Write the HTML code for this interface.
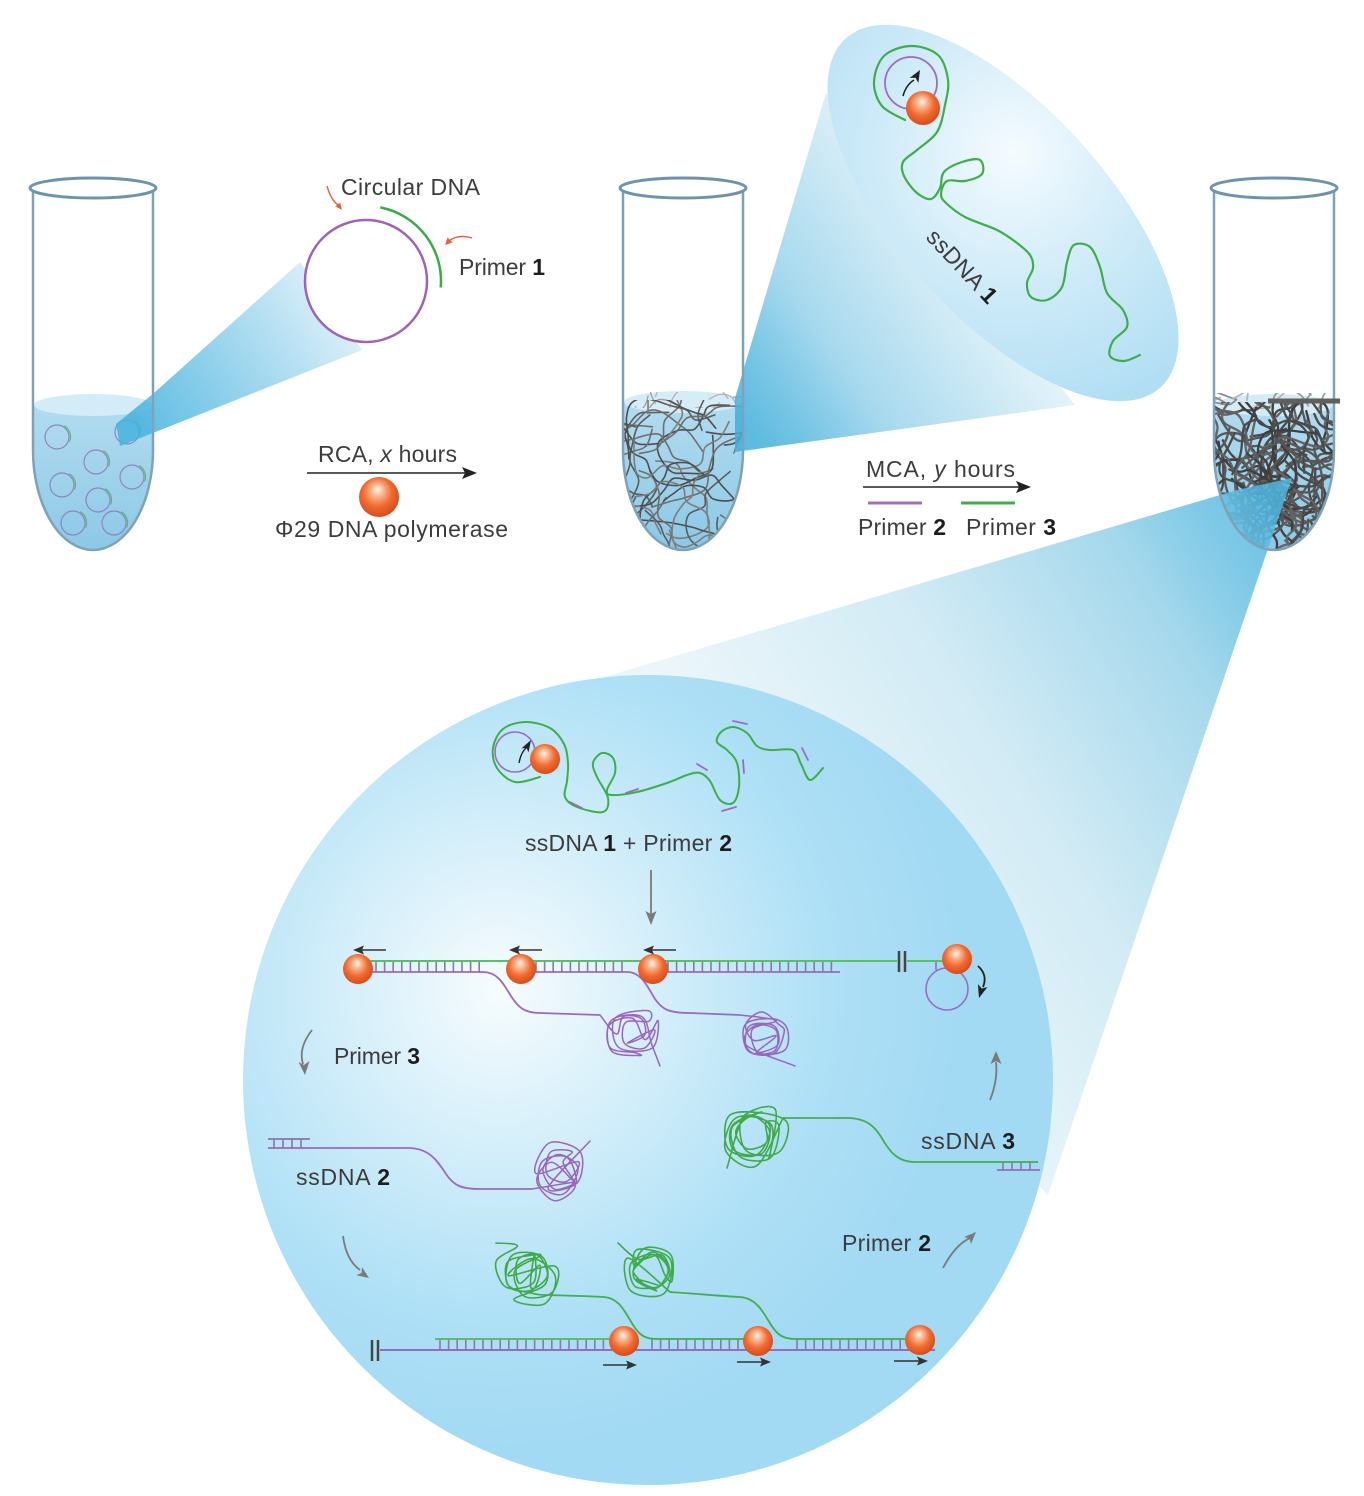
<!DOCTYPE html>
<html><head><meta charset="utf-8">
<style>
html,body{margin:0;padding:0;background:#fff;}
svg{display:block;}
text{font-family:"Liberation Sans",sans-serif;fill:#3c3c3c;font-size:23px;}
.b{font-weight:bold;fill:#1d1d1d;}
</style></head>
<body>
<svg id="s" width="1364" height="1496" viewBox="0 0 1364 1496" xmlns="http://www.w3.org/2000/svg">
<defs>
 <radialGradient id="sph" cx="0.45" cy="0.42" r="0.6" fx="0.47" fy="0.3">
  <stop offset="0" stop-color="#fff6ee"/><stop offset="0.25" stop-color="#fbb790"/>
  <stop offset="0.6" stop-color="#f26b30"/><stop offset="1" stop-color="#d44a1b"/>
 </radialGradient>
 <linearGradient id="lq" x1="0" y1="0" x2="0" y2="1">
  <stop offset="0" stop-color="#b2dcf0"/><stop offset="1" stop-color="#8ac8e6"/>
 </linearGradient>
 <radialGradient id="bc" gradientUnits="userSpaceOnUse" cx="500" cy="990" r="470">
  <stop offset="0" stop-color="#f7fcfe"/><stop offset="0.35" stop-color="#d3eefa"/>
  <stop offset="0.7" stop-color="#aee0f6"/><stop offset="1" stop-color="#a2d9f3"/>
 </radialGradient>
 <radialGradient id="eg" gradientUnits="userSpaceOnUse" cx="965" cy="165" r="270">
  <stop offset="0" stop-color="#f5fbff"/><stop offset="0.5" stop-color="#cfebf8"/>
  <stop offset="1" stop-color="#b1def4"/>
 </radialGradient>
 <linearGradient id="c1" gradientUnits="userSpaceOnUse" x1="140" y1="425" x2="330" y2="300">
  <stop offset="0" stop-color="#45b2de" stop-opacity="0.85"/><stop offset="1" stop-color="#d6edf8" stop-opacity="0.9"/>
 </linearGradient>
 <linearGradient id="c2" gradientUnits="userSpaceOnUse" x1="742" y1="425" x2="980" y2="260">
  <stop offset="0" stop-color="#40aedb" stop-opacity="0.85"/><stop offset="0.4" stop-color="#a6d9ee"/>
  <stop offset="1" stop-color="#e6f4fa"/>
 </linearGradient>
 <linearGradient id="c3" gradientUnits="userSpaceOnUse" x1="1270" y1="500" x2="760" y2="820">
  <stop offset="0" stop-color="#4fb6e0" stop-opacity="0.85"/><stop offset="0.25" stop-color="#a5d8ec"/>
  <stop offset="0.6" stop-color="#d2ebf5"/><stop offset="1" stop-color="#ebf6fa"/>
 </linearGradient>
 <clipPath id="t1"><path d="M34,190 L34,450 A59 99 0 0 0 152,450 L152,190 Z"/></clipPath>
 <clipPath id="t2"><path d="M624,190 L624,450 A59 99 0 0 0 742,450 L742,190 Z"/></clipPath>
 <clipPath id="t3"><path d="M1215,190 L1215,450 A59 99 0 0 0 1333,450 L1333,190 Z"/></clipPath>
 <clipPath id="l2"><path d="M624,400 L624,450 A59 99 0 0 0 742,450 L742,400 Z"/></clipPath>
 <clipPath id="s2"><rect x="624" y="392" width="118" height="16"/></clipPath>
 <clipPath id="l3"><path d="M1215,402 L1215,450 A59 99 0 0 0 1333,450 L1333,402 Z"/></clipPath>
 <clipPath id="s3"><rect x="1215" y="393" width="118" height="16"/></clipPath>
</defs>

<rect x="0" y="0" width="1364" height="1496" fill="#fff"/>

<g clip-path="url(#t1)">
 <rect x="30" y="405" width="130" height="150" fill="url(#lq)"/>
 <ellipse cx="93" cy="405" rx="59" ry="11" fill="#d3ecf7"/>
 <g id="tc1"></g>
</g>
<g clip-path="url(#t2)">
 <rect x="620" y="402" width="130" height="150" fill="url(#lq)"/>
 <ellipse cx="683" cy="402" rx="59" ry="11" fill="#d6edf7"/>
</g>
<g clip-path="url(#s2)"><g id="ts2"></g></g>
<g clip-path="url(#l2)"><g id="tg2"></g></g>
<g clip-path="url(#t3)">
 <rect x="1210" y="405" width="130" height="150" fill="url(#lq)"/>
 <ellipse cx="1274" cy="405" rx="59" ry="11" fill="#d3ecf7"/>
</g>
<g clip-path="url(#s3)"><g id="ts3"></g></g>
<g clip-path="url(#l3)"><g id="tg3"></g></g>

<polygon points="1237,490 1292,478 1048,1195 560,690" fill="url(#c3)"/>
<polygon points="735,398 826,93 1075,405 735,452" fill="url(#c2)"/>
<polygon points="154,393 300,262 362,350 120,446 116,424" fill="url(#c1)"/>

<circle cx="648" cy="1080" r="405" fill="url(#bc)"/>
<ellipse cx="1003" cy="213" rx="235" ry="105" transform="rotate(48 1003 213)" fill="url(#eg)"/>

<circle cx="366" cy="281" r="61" fill="#fff" stroke="#9e62b8" stroke-width="2.5"/>
<path d="M380.3,207.4 A75 75 0 0 1 440.7,287.5" fill="none" stroke="#3aaa48" stroke-width="2.5"/>
<path d="M327,186 Q331,200 338,205" fill="none" stroke="#e8603c" stroke-width="1.4"/>
<polygon points="342,210 335.4,206.2 340.2,202.6" fill="#e8603c"/>
<path d="M472,238 Q460,234 450,240" fill="none" stroke="#e8603c" stroke-width="1.4"/>
<polygon points="445,245 452.5,242.5 447.5,237.5" fill="#e8603c"/>

<line x1="307" y1="473" x2="466" y2="473" stroke="#222" stroke-width="1.6"/>
<polygon points="477,473 462,467 465,473 462,479" fill="#222"/>
<circle cx="379" cy="497" r="20" fill="url(#sph)"/>

<line x1="863" y1="487" x2="1020" y2="487" stroke="#222" stroke-width="1.6"/>
<polygon points="1031,487 1016,481 1019,487 1016,493" fill="#222"/>
<line x1="868" y1="503" x2="922" y2="503" stroke="#a070c0" stroke-width="3"/>
<line x1="961" y1="503" x2="1015" y2="503" stroke="#3fae4a" stroke-width="3"/>

<circle cx="911" cy="83" r="26" fill="none" stroke="#9b6cc0" stroke-width="1.8"/>
<g id="ell"></g>
<circle cx="923" cy="108" r="17" fill="url(#sph)"/>
<path d="M903,96 Q906,85 914,80" fill="none" stroke="#222" stroke-width="1.6"/>
<polygon points="920,70 918.4,82.9 915.5,77.8 909.7,77.9" fill="#222"/>

<g id="cc"></g>
<circle cx="515" cy="752" r="20" fill="none" stroke="#9b6cc0" stroke-width="1.6"/>
<circle cx="545" cy="759" r="15" fill="url(#sph)"/>
<path d="M519,763 Q521,752 527,747" fill="none" stroke="#222" stroke-width="1.4"/>
<polygon points="531,740 528.5,752.4 526.5,747.8 521.5,748.4" fill="#222"/>

<line x1="651" y1="870" x2="651" y2="914" stroke="#7a7a7a" stroke-width="1.8"/>
<polygon points="651,925 645.5,911 651,914 656.5,911" fill="#7a7a7a"/>

<path d="M358,961 H897 M907,961 H948" stroke="#5cbf68" stroke-width="2" fill="none"/>
<path d="M899,951 V972 M905,951 V972" stroke="#444" stroke-width="2.5"/>
<path d="M358,972 H483 C498,972 504,985 511,996 C518,1007 524,1013 540,1013 L600,1015" fill="none" stroke="#9a6abb" stroke-width="1.8"/>
<path d="M521,972 H627 C642,972 648,988 655,999 C662,1009 668,1013 690,1013 L740,1015" fill="none" stroke="#9a6abb" stroke-width="1.8"/>
<path d="M653,972 H840" fill="none" stroke="#9a6abb" stroke-width="1.8"/>
<circle cx="947" cy="989" r="21" fill="none" stroke="#9b6cc0" stroke-width="1.6"/>
<path d="M936,962 V970" stroke="#9b6cc0" stroke-width="1.6"/>
<circle cx="358" cy="969" r="15" fill="url(#sph)"/>
<circle cx="521" cy="969" r="15" fill="url(#sph)"/>
<circle cx="653" cy="969" r="15" fill="url(#sph)"/>
<circle cx="957" cy="959" r="15" fill="url(#sph)"/>
<g stroke="#333" stroke-width="1.4">
 <line x1="386" y1="950" x2="362" y2="950"/><line x1="542" y1="950" x2="518" y2="950"/><line x1="676" y1="950" x2="652" y2="950"/>
</g>
<polygon points="353,950 364,945.5 362,950 364,954.5" fill="#333"/>
<polygon points="509,950 520,945.5 518,950 520,954.5" fill="#333"/>
<polygon points="643,950 654,945.5 652,950 654,954.5" fill="#333"/>
<path d="M978,966 Q988,975 983,987" fill="none" stroke="#222" stroke-width="1.8"/>
<polygon points="979,998 987.4,987.1 981.7,988.5 977.9,984.1" fill="#222"/>

<g fill="none" stroke="#7a7a7a" stroke-width="1.8">
 <path d="M312,1030 Q298,1048 303,1064"/>
 <path d="M990,1100 Q998,1080 996,1062"/>
 <path d="M343,1236 Q346,1260 360,1270"/>
 <path d="M943,1268 Q955,1245 970,1238"/>
</g>
<g fill="#7a7a7a">
 <polygon points="305,1075 298.5,1062 304,1065 309.5,1061"/>
 <polygon points="996,1051 990.5,1064 996,1061 1001.5,1064"/>
 <polygon points="369,1278 356.4,1275.3 361.6,1272.9 362,1267.1"/>
 <polygon points="976,1232 971,1244 969.6,1238.4 964,1237"/>
</g>

<path d="M268,1139 H310" stroke="#8a74a8" stroke-width="1.8"/>
<path d="M268,1148 H408 C430,1148 438,1162 446,1174 C454,1186 462,1189 480,1189 L532,1189" fill="none" stroke="#9a6abb" stroke-width="1.8"/>
<path d="M1038,1162 H915 C898,1162 890,1152 883,1140 C876,1128 868,1118 847,1118 L783,1118" fill="none" stroke="#44ad4f" stroke-width="1.8"/>
<path d="M997,1170 H1040" stroke="#9a6abb" stroke-width="1.8"/>

<path d="M372,1340 V1361 M378,1340 V1361" stroke="#444" stroke-width="2.5"/>
<path d="M380,1350 H935" stroke="#9a6abb" stroke-width="2"/>
<path d="M435,1339 H612" stroke="#5cbf68" stroke-width="2"/>
<path d="M548,1295 C575,1296 590,1296 604,1297 C618,1298 624,1310 630,1320 C637,1332 642,1339 656,1339 H745" fill="none" stroke="#44ad4f" stroke-width="1.8"/>
<path d="M670,1292 C700,1294 720,1296 740,1297 C755,1298 762,1310 768,1320 C775,1332 780,1339 795,1339 H906" fill="none" stroke="#44ad4f" stroke-width="1.8"/>
<circle cx="624" cy="1341" r="15" fill="url(#sph)"/>
<circle cx="758" cy="1341" r="15" fill="url(#sph)"/>
<circle cx="920" cy="1340" r="15" fill="url(#sph)"/>
<g stroke="#333" stroke-width="1.4">
 <line x1="603" y1="1365" x2="628" y2="1365"/><line x1="737" y1="1362" x2="762" y2="1362"/><line x1="894" y1="1361" x2="919" y2="1361"/>
</g>
<polygon points="637,1365 626,1360.5 628,1365 626,1369.5" fill="#333"/>
<polygon points="771,1362 760,1357.5 762,1362 760,1366.5" fill="#333"/>
<polygon points="928,1361 917,1356.5 919,1361 917,1365.5" fill="#333"/>

<g fill="none" stroke="#7ea2b9" stroke-width="2.5">
 <path d="M33,190 L33,450 A60 100 0 0 0 153,450 L153,190"/>
 <path d="M623,190 L623,450 A60 100 0 0 0 743,450 L743,190"/>
 <path d="M1214,190 L1214,450 A60 100 0 0 0 1334,450 L1334,190"/>
</g>
<g fill="none" stroke="#6e94ad" stroke-width="3">
 <ellipse cx="93" cy="188" rx="63" ry="10"/>
 <ellipse cx="683" cy="188" rx="63" ry="10"/>
 <ellipse cx="1274" cy="188" rx="63" ry="10"/>
</g>
<line x1="1268" y1="401" x2="1340" y2="401" stroke="#5f5f5f" stroke-width="5"/>

<text x="341" y="195" textLength="139">Circular DNA</text>
<text x="459" y="275" textLength="86">Primer <tspan class="b">1</tspan></text>
<text x="318" y="462" textLength="139">RCA,  <tspan font-style="italic">x</tspan> hours</text>
<text x="275" y="537" textLength="233">Φ29 DNA polymerase</text>
<text x="866" y="477" textLength="149">MCA,  <tspan font-style="italic">y</tspan> hours</text>
<text x="858" y="535" textLength="88">Primer <tspan class="b">2</tspan></text>
<text x="966" y="535" textLength="90">Primer <tspan class="b">3</tspan></text>
<text transform="translate(925,238) rotate(47)" textLength="92">ssDNA <tspan class="b">1</tspan></text>
<text x="525" y="851" textLength="207">ssDNA <tspan class="b">1</tspan> + Primer <tspan class="b">2</tspan></text>
<text x="334" y="1064" textLength="86">Primer <tspan class="b">3</tspan></text>
<text x="296" y="1185" textLength="94">ssDNA <tspan class="b">2</tspan></text>
<text x="921" y="1149" textLength="94">ssDNA <tspan class="b">3</tspan></text>
<text x="842" y="1251" textLength="89">Primer <tspan class="b">2</tspan></text>
</svg>

<script>
(function(){
const NS='http://www.w3.org/2000/svg';
function el(p,t,a){const e=document.createElementNS(NS,t);for(const k in a)e.setAttribute(k,a[k]);p.appendChild(e);return e;}
let seed=20240611;
function R(){seed=(seed*1103515245+12345)%2147483648;return seed/2147483648;}
const f=v=>v.toFixed(1);
function cr(pts){
 let d='M'+f(pts[0][0])+','+f(pts[0][1]);
 for(let i=0;i<pts.length-1;i++){
  const p0=pts[i-1]||pts[i],p1=pts[i],p2=pts[i+1],p3=pts[i+2]||p2;
  const c1=[p1[0]+(p2[0]-p0[0])/6,p1[1]+(p2[1]-p0[1])/6];
  const c2=[p2[0]-(p3[0]-p1[0])/6,p2[1]-(p3[1]-p1[1])/6];
  d+=' C'+f(c1[0])+','+f(c1[1])+' '+f(c2[0])+','+f(c2[1])+' '+f(p2[0])+','+f(p2[1]);
 }
 return d;
}
function tangle(g,cx,cy,rx,ry,loops,start,end,color,w){
 const pts=[start];
 for(let j=0;j<loops;j++){
  const a=R()*6.28,d=0.35*R();
  const lx=cx+rx*d*Math.cos(a),ly=cy+ry*d*Math.sin(a);
  const lr=0.5+0.35*R();
  let th=R()*6.28;const dir=R()<0.5?1:-1;
  for(let i=0;i<5;i++){th+=dir*(1.25+0.25*R());pts.push([lx+rx*lr*Math.cos(th),ly+ry*lr*Math.sin(th)]);}
 }
 if(end)pts.push(end);
 el(g,'path',{d:cr(pts),fill:'none',stroke:color,'stroke-width':w,'stroke-linecap':'round'});
}
function strands(g,x0,x1,y0,y1,count,colors,w,step){
 step=step||13;
 for(let k=0;k<count;k++){
  let x=x0+R()*(x1-x0),y=y0+R()*(y1-y0),a=R()*6.28;const pts=[[x,y]];
  for(let i=0;i<9;i++){a+=(R()-0.5)*2.2;const s=step+R()*step;x+=Math.cos(a)*s;y+=Math.sin(a)*s;pts.push([x,y]);}
  el(g,'path',{d:cr(pts),fill:'none',stroke:colors[k%colors.length],'stroke-width':w,'stroke-linecap':'round'});
 }
}
function rungs(g,x0,x1,step,y0,y1,color){
 let d='';for(let x=x0;x<=x1+0.1;x+=step)d+='M'+f(x)+','+y0+' V'+y1+' ';
 el(g,'path',{d:d,stroke:color,'stroke-width':1.6,fill:'none'});
}
const tc1=document.getElementById('tc1');
[[57,437],[127,432],[96,462],[132,477],[62,485],[98,500],[73,523],[114,523]].forEach(c=>{
 el(tc1,'circle',{cx:c[0],cy:c[1],r:12,fill:'none',stroke:'#8f74b8','stroke-width':1.2,opacity:0.85});
 const r=13.5,a1=-1.0,a2=0.35;
 el(tc1,'path',{d:'M'+f(c[0]+r*Math.cos(a1))+','+f(c[1]+r*Math.sin(a1))+' A'+r+' '+r+' 0 0 1 '+f(c[0]+r*Math.cos(a2))+','+f(c[1]+r*Math.sin(a2)),fill:'none',stroke:'#4fb35a','stroke-width':1.2,opacity:0.85});
});
strands(document.getElementById('ts2'),630,738,394,408,10,['#9c9c9c','#b3b3b3'],1.3,9);
strands(document.getElementById('tg2'),630,736,405,545,40,['#5b5b5b','#6e6e6e','#4e4e4e','#7c7c7c'],1.6,11);
strands(document.getElementById('ts3'),1220,1330,395,409,16,['#9a9a9a','#b5b5b5','#888'],1.7,9);
strands(document.getElementById('tg3'),1218,1330,405,548,95,['#4a4a4a','#575757','#636363','#3f3f3f'],2.3,11);
const ell=document.getElementById('ell');
const ep=[[905,120],[882,106],[874,82],[884,56],[911,46],[938,55],[948,80],[945,105],[937,132],[917,150],[903,162],[904,176],[917,193],[931,199],[940,188],[944,172],[962,162],[980,160],[982,174],[965,181],[947,181],[941,194],[946,203],[965,217],[997,230],[1017,243],[1030,255],[1033,268],[1027,283],[1031,297],[1047,300],[1062,287],[1067,262],[1074,245],[1090,247],[1100,267],[1107,293],[1123,310],[1127,327],[1113,341],[1110,356],[1124,361],[1140,355]];
el(ell,'path',{d:cr(ep),fill:'none',stroke:'#3fae4a','stroke-width':2.2,'stroke-linecap':'round'});
const cc=document.getElementById('cc');
const tp=[[540,777],[515,782],[497,768],[493,748],[503,729],[525,722],[550,728],[564,744],[568,763],[567,781],[565,797],[577,807],[603,812],[608,798],[597,777],[593,763],[602,753],[613,758],[615,773],[607,790],[612,795],[637,792],[667,783],[687,775],[700,773],[710,781],[720,800],[733,803],[739,787],[737,763],[727,750],[717,742],[721,732],[733,727],[747,733],[757,746],[770,750],[793,750],[801,764],[810,780],[823,768]];
el(cc,'path',{d:cr(tp),fill:'none',stroke:'#3fae4a','stroke-width':2,'stroke-linecap':'round'});
const dashes=[[570,802,582,808],[626,793,638,789],[697,764,707,770],[743,760,744,773],[722,811,736,807],[733,721,747,724],[802,748,808,760]];
dashes.forEach(d=>el(cc,'path',{d:'M'+d[0]+','+d[1]+' L'+d[2]+','+d[3],stroke:'#9b6cc0','stroke-width':1.8,'stroke-linecap':'round'}));
tangle(cc,628,1033,30,28,5,[600,1015],[660,1066],'#9a66bb',1.5);
tangle(cc,762,1034,31,28,5,[740,1015],[795,1066],'#9a66bb',1.5);
rungs(cc,376,483,8.6,961,972,'#8a78a8');
rungs(cc,536,627,8.6,961,972,'#8a78a8');
rungs(cc,668,838,8.6,961,972,'#8a78a8');
rungs(cc,274,301,9,1139,1148,'#8a74a8');
tangle(cc,556,1174,31,31,5,[532,1189],[590,1141],'#9a66bb',1.5);
rungs(cc,1003,1030,9,1162,1170,'#8a78a8');
tangle(cc,757,1136,33,33,6,[783,1118],[727,1168],'#3faa4a',1.6);
rungs(cc,440,610,8.6,1339,1350,'#8a78a8');
rungs(cc,652,743,8.6,1339,1350,'#8a78a8');
rungs(cc,797,906,8.6,1339,1350,'#8a78a8');
tangle(cc,526,1274,33,33,6,[496,1243],[548,1295],'#3faa4a',1.6);
tangle(cc,651,1271,31,32,6,[618,1243],[670,1292],'#3faa4a',1.6);
})();
</script>
</body></html>
